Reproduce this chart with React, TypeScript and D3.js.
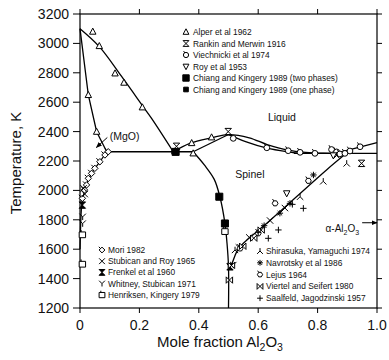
import React from "react";
import * as d3 from "d3";

const W = 389;
const H = 360;

const xTicks = [0, 0.2, 0.4, 0.6, 0.8, 1.0];
const xTickLabels = ["0", "0.2", "0.4", "0.6", "0.8", "1.0"];
const yTicks = [1200, 1400, 1600, 1800, 2000, 2200, 2400, 2600, 2800, 3000, 3200];

// Phase boundaries [mole fraction Al2O3, T(K)]
const mgoLiquidus = [[0, 3100], [0.065, 2978], [0.14, 2775], [0.213, 2569], [0.241, 2490], [0.314, 2263]];
const mgoSolidus = [[0, 3100], [0.028, 2649], [0.056, 2399], [0.09, 2263]];
const mgoSolvus = [[0.09, 2263], [0.067, 2195], [0.039, 2116], [0.022, 2040], [0.011, 1960], [0.005, 1880], [0.002, 1750], [0, 1600]];
const eutecticLeft = [[0.09, 2263], [0.381, 2263]];
const spinelLiquidus = [[0.314, 2263], [0.37, 2320], [0.443, 2358], [0.5, 2380], [0.57, 2358], [0.63, 2312], [0.7, 2274], [0.76, 2259], [0.82, 2253], [0.87, 2252]];
const spinelSolidusLeft = [[0.381, 2263], [0.5, 2380]];
const spinelSolidusRight = [[0.5, 2380], [0.52, 2363], [0.56, 2330], [0.63, 2287], [0.7, 2262], [0.74, 2252]];
const eutecticRight = [[0.72, 2252], [1.0, 2252]];
const al2o3Liquidus = [[0.86, 2252], [1.0, 2325]];
const spinelSolvusLeft = [[0.381, 2263], [0.42, 2170], [0.452, 2075], [0.471, 1957], [0.488, 1776], [0.495, 1640], [0.5, 1480], [0.5, 1200]];
const spinelSolvusRight = [[0.5, 1460], [0.511, 1500], [0.528, 1583], [0.55, 1640], [0.629, 1776], [0.673, 1855], [0.83, 2139], [0.897, 2252]];

// Experimental points
const alper = [[0.043, 3080], [0.065, 2982], [0.118, 2796], [0.148, 2733], [0.21, 2565], [0.028, 2649], [0.056, 2399], [0.376, 2322], [0.443, 2361], [0.381, 2252]];
const rankin = [[0.325, 2300], [0.499, 2400], [0.948, 2184]];
const viechnicki = [[0.516, 2354], [0.629, 2290], [0.701, 2270], [0.741, 2259], [0.791, 2252], [0.847, 2278], [0.864, 2262], [0.875, 2248], [0.892, 2252], [0.909, 2268], [0.943, 2297]];
const roy = [[0.696, 1980], [0.853, 2238]];
const chiangTwo = [[0.322, 2262], [0.469, 1957], [0.488, 1775]];
const chiangOne = [[0.318, 2265]];
const mori = [[0.095, 2263], [0.084, 2241], [0.067, 2195], [0.05, 2150], [0.039, 2116], [0.028, 2082], [0.022, 2037], [0.015, 2003], [0.008, 1946]];
const stubican = [[0.012, 2014], [0.016, 1975], [0.535, 1612], [0.57, 1680], [0.64, 1795], [0.69, 1880]];
const frenkel = [[0.008, 1900], [0.505, 1480]];
const whitney = [[0.009, 1820], [0.009, 1774], [0.516, 1492]];
const henriksen = [[0.008, 1500], [0.008, 1700], [0.488, 1722]];
const shirasuka = [[0.522, 1595], [0.741, 1957], [0.819, 2062], [0.898, 2184], [0.864, 2238]];
const navrotsky = [[0.62, 1760], [0.673, 1845], [0.707, 1912], [0.786, 2105]];
const lejus = [[0.539, 1605], [0.6, 1708], [0.657, 1912], [0.769, 2065]];
const viertel = [[0.503, 1390], [0.51, 1490], [0.548, 1620], [0.585, 1675], [0.61, 1730]];
const saalfeld = [[0.634, 1674], [0.668, 1731], [0.752, 1878], [0.6, 1715], [0.715, 1905]];

const legendTop = [
  { label: "Alper et al 1962", sym: "triUp" },
  { label: "Rankin and Merwin 1916", sym: "barX" },
  { label: "Viechnicki et al 1974", sym: "circTick" },
  { label: "Roy et al 1953", sym: "triDown" },
  { label: "Chiang and Kingery 1989 (two phases)", sym: "bigSq" },
  { label: "Chiang and Kingery 1989 (one phase)", sym: "smSq" },
];
const legendLeft = [
  { label: "Mori 1982", sym: "diamTick" },
  { label: "Stubican and Roy 1965", sym: "x" },
  { label: "Frenkel et al 1960", sym: "hourglass" },
  { label: "Whitney, Stubican 1971", sym: "Y" },
  { label: "Henriksen, Kingery 1979", sym: "sqTick" },
];
const legendRight = [
  { label: "Shirasuka, Yamaguchi 1974", sym: "lambda" },
  { label: "Navrotsky et al 1986", sym: "aster" },
  { label: "Lejus 1964", sym: "hexTick" },
  { label: "Viertel and Seifert 1980", sym: "bowtie" },
  { label: "Saalfeld, Jagodzinski 1957", sym: "plus" },
];

const seriesPoints: [number[][], string][] = [
  [alper, "triUp"], [rankin, "barX"], [viechnicki, "circTick"], [roy, "triDown"],
  [chiangTwo, "bigSq"], [chiangOne, "smSq"], [mori, "diamTick"], [stubican, "x"],
  [frenkel, "hourglass"], [whitney, "Y"], [henriksen, "sqTick"], [shirasuka, "lambda"],
  [navrotsky, "aster"], [lejus, "hexTick"], [viertel, "bowtie"], [saalfeld, "plus"],
];

const FONT = "'Liberation Sans', Arial, Helvetica, sans-serif";

function symbol(type: string, s: number): { d: string; fill: string } {
  const r = s * 0.9;
  switch (type) {
    case "triUp":
      return { d: `M0,${-s * 1.1}L${s},${s * 0.8}L${-s},${s * 0.8}Z`, fill: "white" };
    case "triDown":
      return { d: `M0,${s * 1.1}L${s},${-s * 0.8}L${-s},${-s * 0.8}Z`, fill: "white" };
    case "circTick":
      return { d: `M${-r},0a${r},${r} 0 1,0 ${2 * r},0a${r},${r} 0 1,0 ${-2 * r},0M${-r * 0.5},${-r * 0.85}L${-r * 0.9},${-r * 1.5}`, fill: "white" };
    case "barX":
      return { d: `M${-s},${-s}L${s},${s}M${s},${-s}L${-s},${s}M${-s},${-s}L${s},${-s}M${-s},${s}L${s},${s}`, fill: "none" };
    case "bigSq":
      return { d: `M${-s * 1.1},${-s * 1.1}h${s * 2.2}v${s * 2.2}h${-s * 2.2}Z`, fill: "black" };
    case "smSq":
      return { d: `M${-s * 0.8},${-s * 0.8}h${s * 1.6}v${s * 1.6}h${-s * 1.6}Z`, fill: "black" };
    case "diamTick":
      return { d: `M0,${-s}L${s},0L0,${s}L${-s},0ZM${-s * 0.5},${-s * 0.5}L${-s * 1.1},${-s * 1.1}`, fill: "white" };
    case "x":
      return { d: `M${-s},${-s}L${s},${s}M${s},${-s}L${-s},${s}`, fill: "none" };
    case "hourglass":
      return { d: `M${-s},${-s}L${s},${-s}L${-s},${s}L${s},${s}Z`, fill: "black" };
    case "Y":
      return { d: `M${-s},${-s}L0,0L${s},${-s}M0,0L0,${s}`, fill: "none" };
    case "sqTick":
      return { d: `M${-s},${-s * 0.8}h${2 * s}v${1.8 * s}h${-2 * s}ZM${-s * 0.4},${-s * 0.8}v${-s * 0.6}`, fill: "white" };
    case "lambda":
      return { d: `M0,${-s}L0,0L${-s},${s}M0,0L${s},${s}`, fill: "none" };
    case "aster": {
      let d = "";
      for (let i = 0; i < 4; i++) {
        const a = (i * Math.PI) / 4;
        d += `M${-s * Math.cos(a)},${-s * Math.sin(a)}L${s * Math.cos(a)},${s * Math.sin(a)}`;
      }
      return { d, fill: "none" };
    }
    case "hexTick": {
      const pts = d3.range(6).map((i) => {
        const a = (i * Math.PI) / 3;
        return `${r * Math.cos(a)},${r * Math.sin(a)}`;
      });
      return { d: `M${pts.join("L")}ZM${-r * 0.5},${-r * 0.87}L${-r * 0.9},${-r * 1.5}`, fill: "white" };
    }
    case "bowtie":
      return { d: `M${-s},${-s}L${-s},${s}L${s},${-s}L${s},${s}Z`, fill: "white" };
    case "plus":
      return { d: `M${-s},0L${s},0M0,${-s}L0,${s}`, fill: "none" };
  }
  return { d: "", fill: "none" };
}

export default function App() {
  const x = d3.scaleLinear().domain([0, 1]).range([80, 377]);
  const y = d3.scaleLinear().domain([1200, 3200]).range([308, 14]);

  const smooth = d3.line<number[]>().x((d) => x(d[0])).y((d) => y(d[1])).curve(d3.curveCatmullRom.alpha(0.5));
  const straight = d3.line<number[]>().x((d) => x(d[0])).y((d) => y(d[1]));

  const smoothCurves = [mgoLiquidus, mgoSolvus, spinelLiquidus, spinelSolidusRight, spinelSolvusLeft, spinelSolvusRight];
  const straightCurves = [mgoSolidus, eutecticLeft, spinelSolidusLeft, eutecticRight, al2o3Liquidus];

  const x0 = x(0), x1 = x(1), yTop = y(3200), yBot = y(1200);
  const MS = 3.2;

  const renderLegend = (items: { label: string; sym: string }[], sx: number, tx: number, y0: number, dy: number) =>
    items.map((it, i) => {
      const sy = symbol(it.sym, 2.9);
      return (
        <g key={it.label}>
          <path d={sy.d} transform={`translate(${sx},${y0 + i * dy})`} fill={sy.fill} stroke="black" strokeWidth={1} />
          <text x={tx} y={y0 + i * dy + 3} fontSize={8.4} fontFamily={FONT} fill="#111">
            {it.label}
          </text>
        </g>
      );
    });

  return (
    <svg width={W} height={H} style={{ position: "absolute", left: 0, top: 0, background: "white" }}>
      <rect x={0} y={0} width={W} height={H} fill="white" />
      {/* frame */}
      <rect x={x0} y={yTop} width={x1 - x0} height={yBot - yTop} fill="none" stroke="black" strokeWidth={1.2} />
      {/* ticks */}
      {xTicks.map((t) => (
        <g key={"xt" + t}>
          <line x1={x(t)} x2={x(t)} y1={yBot} y2={yBot + 5} stroke="black" />
          <line x1={x(t)} x2={x(t)} y1={yTop} y2={yTop - 5} stroke="black" />
        </g>
      ))}
      {yTicks.map((t) => (
        <g key={"yt" + t}>
          <line x1={x0} x2={x0 - 7} y1={y(t)} y2={y(t)} stroke="black" />
          <line x1={x1} x2={x1 + 5} y1={y(t)} y2={y(t)} stroke="black" />
          <text x={x0 - 11} y={y(t) + 5} textAnchor="end" fontSize={14} fontFamily={FONT} fill="#111">
            {t}
          </text>
        </g>
      ))}
      {xTicks.map((t, i) => (
        <text key={"xl" + t} x={x(t)} y={yBot + 22} textAnchor="middle" fontSize={14} fontFamily={FONT} fill="#111">
          {xTickLabels[i]}
        </text>
      ))}
      {/* axis titles */}
      <text x={220} y={347} textAnchor="middle" fontSize={15} fontFamily={FONT} fill="#111">
        Mole fraction Al
        <tspan fontSize={10.5} dy={4}>2</tspan>
        <tspan dy={-4}>O</tspan>
        <tspan fontSize={10.5} dy={4}>3</tspan>
      </text>
      <text transform="translate(21,163) rotate(-90)" textAnchor="middle" fontSize={15} fontFamily={FONT} fill="#111">
        Temperature, K
      </text>

      {/* phase boundaries */}
      {smoothCurves.map((c, i) => (
        <path key={"sc" + i} d={smooth(c as any) || ""} fill="none" stroke="black" strokeWidth={1.3} />
      ))}
      {straightCurves.map((c, i) => (
        <path key={"st" + i} d={straight(c as any) || ""} fill="none" stroke="black" strokeWidth={1.3} />
      ))}

      {/* data points */}
      {seriesPoints.map(([pts, sym], si) =>
        pts.map((p, i) => {
          const s = symbol(sym, MS);
          return (
            <path key={`p${si}-${i}`} d={s.d} transform={`translate(${x(p[0])},${y(p[1])})`} fill={s.fill} stroke="black" strokeWidth={1} />
          );
        })
      )}

      {/* annotations */}
      <defs>
        <marker id="ah" viewBox="0 0 10 10" refX="9" refY="5" markerWidth="6" markerHeight="6" orient="auto">
          <path d="M0,1L10,5L0,9Z" fill="black" />
        </marker>
      </defs>
      <text x={x(0.1)} y={y(2345)} fontSize={10.5} fontFamily={FONT} fill="#111">(MgO)</text>
      <line x1={x(0.092)} y1={y(2360)} x2={x(0.055)} y2={y(2292)} stroke="black" strokeWidth={1} markerEnd="url(#ah)" />
      <text x={x(0.68)} y={y(2472)} textAnchor="middle" fontSize={10.5} fontFamily={FONT} fill="#111">Liquid</text>
      <text x={x(0.572)} y={y(2084)} textAnchor="middle" fontSize={10.5} fontFamily={FONT} fill="#111">Spinel</text>
      <text x={x(0.94)} y={y(1717)} textAnchor="end" fontSize={10} fontFamily={FONT} fill="#111">
        α-Al<tspan fontSize={7} dy={3}>2</tspan><tspan dy={-3}>O</tspan><tspan fontSize={7} dy={3}>3</tspan>
      </text>
      <line x1={x(0.95)} y1={y(1780)} x2={x(1.0)} y2={y(1780)} stroke="black" strokeWidth={1} markerEnd="url(#ah)" />

      {/* legends */}
      {renderLegend(legendTop, 186, 193, 32, 11.5)}
      {renderLegend(legendLeft, 102, 108, 250, 11.2)}
      {renderLegend(legendRight, 260, 266, 251, 11.8)}
    </svg>
  );
}
